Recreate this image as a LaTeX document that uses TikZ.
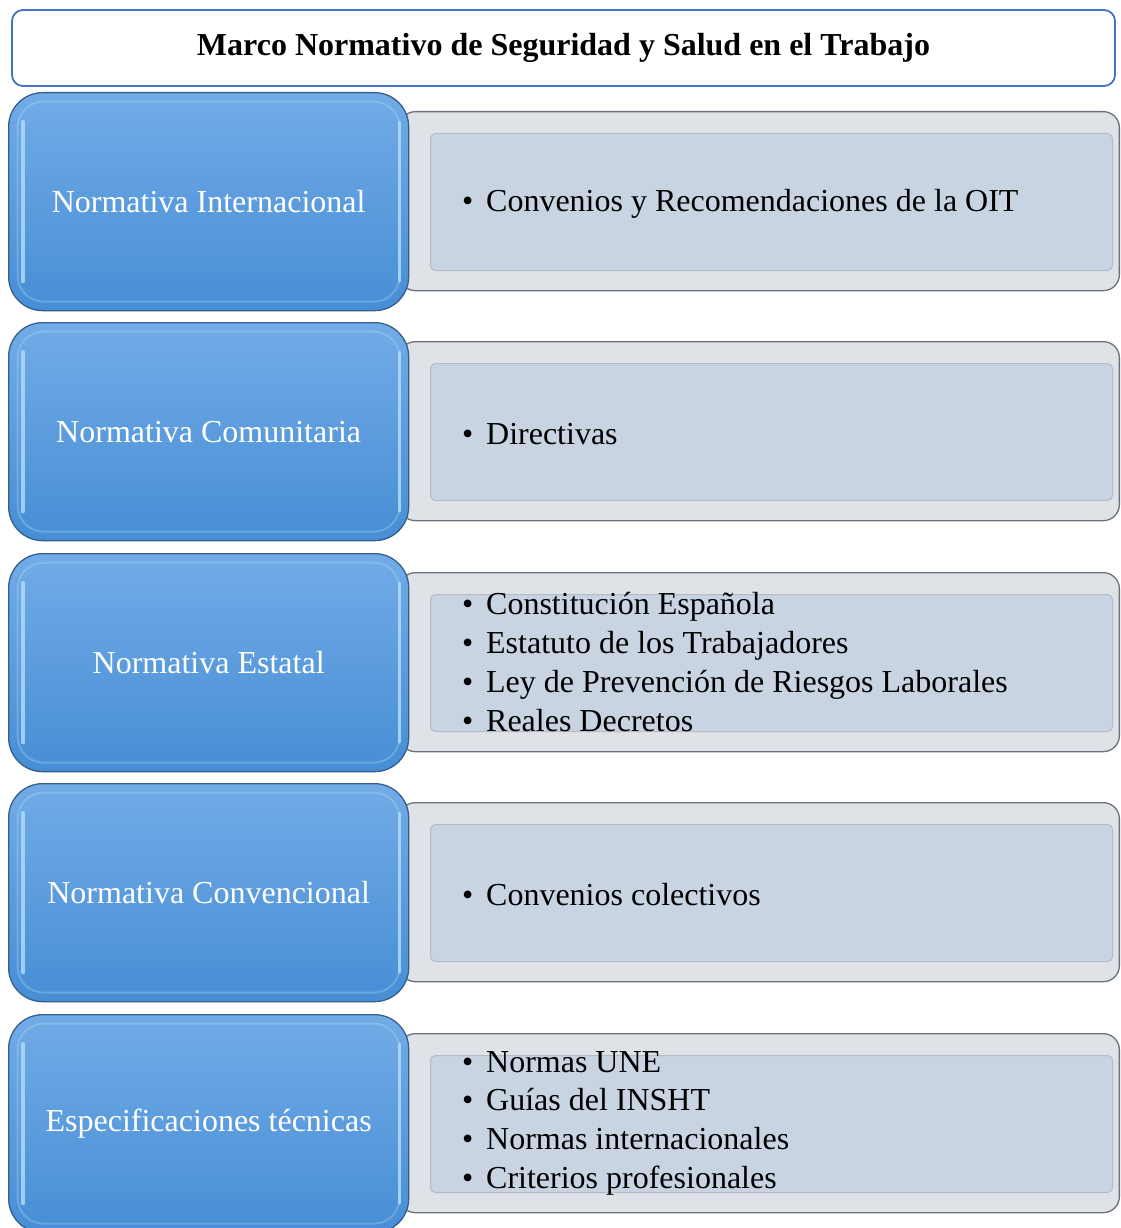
\documentclass[tikz,border=0pt]{standalone}
\usepackage{fontspec}
\setmainfont{Liberation Serif}
\definecolor{titleblue}{HTML}{4472C4}
\definecolor{bluetop}{HTML}{72ABE7}
\definecolor{bluebot}{HTML}{478ED5}
\definecolor{blueedge}{HTML}{35608C}
\definecolor{bluehi}{HTML}{B3DEFA}
\definecolor{grayfill}{HTML}{C8D4E2}
\definecolor{graystrip}{HTML}{DFE2E7}
\definecolor{grayedge}{HTML}{6B727B}
\definecolor{grayshade}{HTML}{B3BCC7}
\newcommand\myrow[5]{%
  \node[graybox, anchor=north east] (g#1) at (1120,{#2+19}) {};
  \node[grayinner, anchor=north west] (gi#1) at (430,{#2+41}) {};
  \node[bluebox, anchor=north west] (b#1) at (8,#2) {#3};
  \node[bluebevel] (bb#1) at (b#1.center) {};
  \draw[bluehl] ([xshift=15pt,yshift=-30pt]b#1.north west) -- ([xshift=15pt,yshift=30pt]b#1.south west);
  \draw[bluehl, line width=2.5pt] ([xshift=-10pt,yshift=-30pt]b#1.north east) -- ([xshift=-10pt,yshift=30pt]b#1.south east);
  \node[itemtext, anchor=west] (t#1) at (462,{#2+#5}) {#4};
}
\newcommand\itm[1]{\makebox[24pt][l]{•}#1}
\begin{document}
\begin{tikzpicture}[x=1pt,y=-1pt,
  titlebox/.style={draw=titleblue, line width=1.8pt, rounded corners=11pt, fill=white,
    minimum width=1103pt, minimum height=76pt, inner sep=0pt,
    font=\bfseries\fontsize{32}{36}\selectfont},
  graybox/.style={draw=grayedge, line width=1.3pt, rounded corners=16pt, fill=graystrip,
    minimum width=720pt, minimum height=179pt, inner sep=0pt},
  grayinner/.style={draw=grayshade, line width=1pt, rounded corners=5pt, fill=grayfill,
    minimum width=682pt, minimum height=137pt, inner sep=0pt},
  bluebox/.style={draw=blueedge, line width=1.3pt, rounded corners=34pt,
    top color=bluetop, bottom color=bluebot, minimum width=400pt, minimum height=218pt,
    inner sep=0pt, text=white, font=\fontsize{32}{36}\selectfont},
  bluebevel/.style={draw=bluehi, draw opacity=0.3, line width=2pt, rounded corners=26pt,
    minimum width=382pt, minimum height=200pt, inner sep=0pt},
  bluehl/.style={draw=bluehi, line width=4pt, draw opacity=0.8, line cap=round},
  itemtext/.style={align=left, inner sep=0pt, font=\fontsize{32}{38.7}\selectfont}]
\useasboundingbox (0,0) rectangle (1120,1228);
\node[titlebox] (title) at (563.5,48) {Marco Normativo de Seguridad y Salud en el Trabajo};
\myrow{1}{92}{Normativa Internacional}{\itm{Convenios y Recomendaciones de la OIT}}{112}
\myrow{2}{322}{Normativa Comunitaria}{\itm{Directivas}}{112}
\myrow{3}{553}{Normativa Estatal}{\itm{Constitución Española}\\\itm{Estatuto de los Trabajadores}\\\itm{Ley de Prevención de Riesgos Laborales}\\\itm{Reales Decretos}}{109}
\myrow{4}{783}{Normativa Convencional}{\itm{Convenios colectivos}}{112}
\myrow{5}{1014}{Especificaciones técnicas}{\itm{Normas UNE}\\\itm{Guías del INSHT}\\\itm{Normas internacionales}\\\itm{Criterios profesionales}}{109}
\end{tikzpicture}
\end{document}
